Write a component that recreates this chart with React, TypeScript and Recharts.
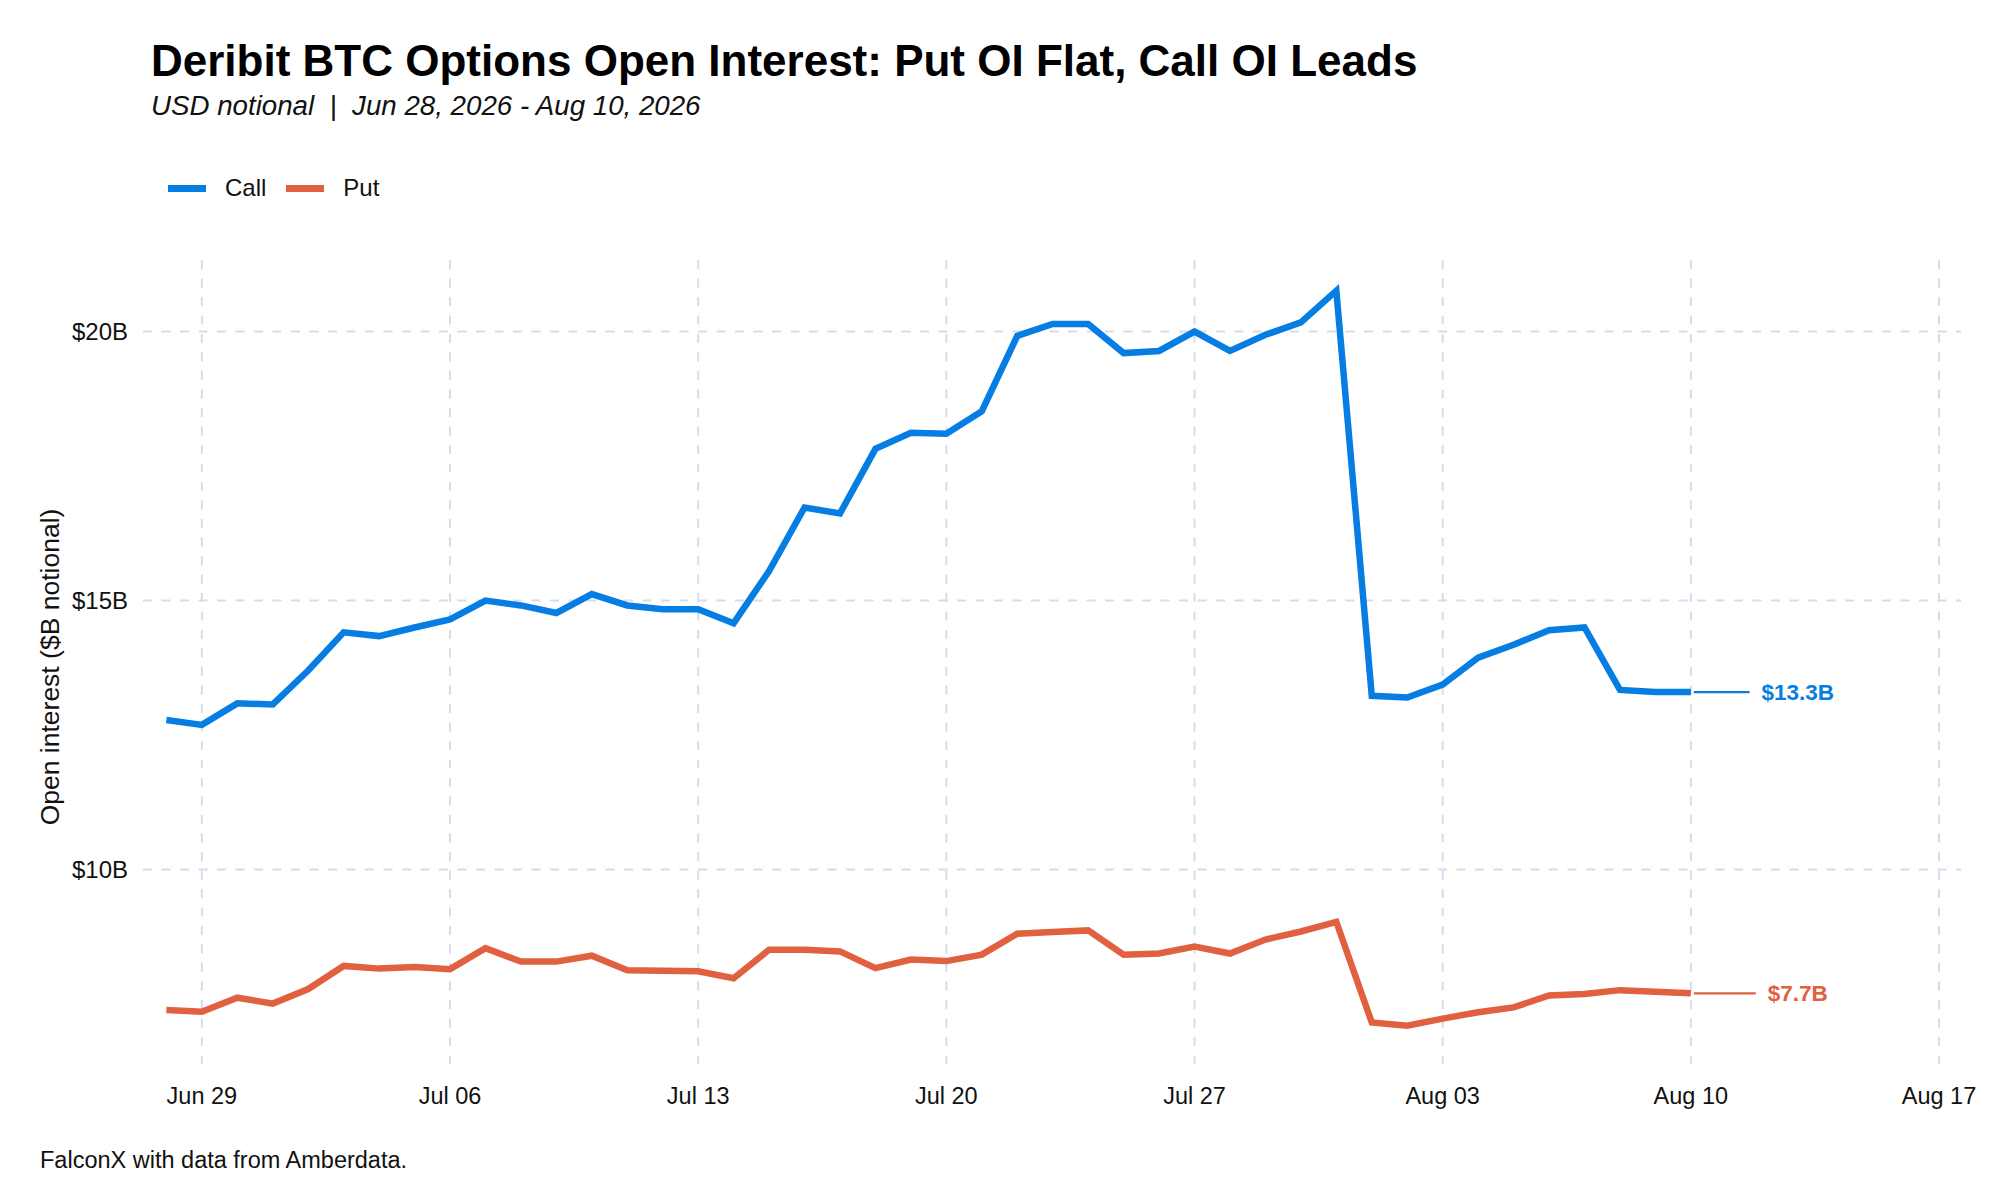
import React from "react";
import { LineChart, Line, XAxis, YAxis, CartesianGrid, Legend } from "recharts";

const FONT = '"Liberation Sans", Arial, Helvetica, sans-serif';
const CALL_COLOR = "#067DE3";
const PUT_COLOR = "#E0603F";
const GRID_COLOR = "#D3DDEC";

// daily observations, USD notional in $B
const dates = [
  "2026-06-28", "2026-06-29", "2026-06-30", "2026-07-01", "2026-07-02", "2026-07-03", "2026-07-04",
  "2026-07-05", "2026-07-06", "2026-07-07", "2026-07-08", "2026-07-09", "2026-07-10", "2026-07-11",
  "2026-07-12", "2026-07-13", "2026-07-14", "2026-07-15", "2026-07-16", "2026-07-17", "2026-07-18",
  "2026-07-19", "2026-07-20", "2026-07-21", "2026-07-22", "2026-07-23", "2026-07-24", "2026-07-25",
  "2026-07-26", "2026-07-27", "2026-07-28", "2026-07-29", "2026-07-30", "2026-07-31", "2026-08-01",
  "2026-08-02", "2026-08-03", "2026-08-04", "2026-08-05", "2026-08-06", "2026-08-07", "2026-08-08",
  "2026-08-09", "2026-08-10",
];

const callOI = [
  12.78, 12.69, 13.09, 13.07, 13.70, 14.41, 14.34, 14.50, 14.65, 15.00, 14.91, 14.77, 15.12, 14.91,
  14.84, 14.84, 14.58, 15.55, 16.73, 16.62, 17.82, 18.12, 18.10, 18.52, 19.92, 20.14, 20.14, 19.60,
  19.64, 20.00, 19.64, 19.94, 20.17, 20.76, 13.23, 13.20, 13.44, 13.94, 14.18, 14.45, 14.50, 13.34,
  13.30, 13.30,
];

const putOI = [
  7.39, 7.36, 7.62, 7.51, 7.78, 8.21, 8.16, 8.19, 8.15, 8.54, 8.29, 8.29, 8.40, 8.13,
  8.12, 8.11, 7.98, 8.51, 8.51, 8.48, 8.17, 8.33, 8.30, 8.42, 8.81, 8.84, 8.87, 8.42,
  8.44, 8.57, 8.44, 8.70, 8.85, 9.03, 7.16, 7.10, 7.23, 7.35, 7.44, 7.66, 7.69, 7.76,
  7.73, 7.70,
];

const tickDates = ["2026-06-29", "2026-07-06", "2026-07-13", "2026-07-20", "2026-07-27", "2026-08-03", "2026-08-10", "2026-08-17"];
const tickLabels = ["Jun 29", "Jul 06", "Jul 13", "Jul 20", "Jul 27", "Aug 03", "Aug 10", "Aug 17"];
const yTicks = [10, 15, 20];

const series = [
  { key: "call", name: "Call", color: CALL_COLOR },
  { key: "put", name: "Put", color: PUT_COLOR },
];

const X_DOMAIN: [number, number] = [-0.66, 50.62];
const Y_DOMAIN: [number, number] = [6.22, 21.33];

const DAY = 86400000;
const t0 = Date.parse(dates[0]);
const toDay = (d: string) => Math.round((Date.parse(d) - t0) / DAY);

const data = dates.map((d, i) => ({ day: toDay(d), call: callOI[i], put: putOI[i] }));
const tickDays = tickDates.map(toDay);
const tickText: Record<number, string> = {};
tickDays.forEach((d, i) => (tickText[d] = tickLabels[i]));

// rough bold width of the end labels (em units)
const labelWidth = (s: string, fs: number) =>
  s.split("").reduce((w, c) => w + (c === "." ? 0.278 : c === "B" ? 0.722 : 0.556), 0) * fs;

const endLabel = (color: string, last: number) => (props: any) => {
  const { x, y, index, value } = props;
  if (index !== last) return null;
  const fs = 22.5;
  const txt = `$${Number(value).toFixed(1)}B`;
  const cx = x + 107;
  const segEnd = cx - labelWidth(txt, fs) / 2 - 12;
  return (
    <g>
      <line x1={x + 3} y1={y} x2={segEnd} y2={y} stroke={color} strokeWidth={2.2} />
      <text x={cx} y={y} dy="0.36em" textAnchor="middle" fill={color}
        style={{ fontFamily: FONT, fontSize: fs, fontWeight: 700 }}>
        {txt}
      </text>
    </g>
  );
};

const LegendContent = () => (
  <div style={{ display: "flex", alignItems: "center", fontFamily: FONT, fontSize: 24, color: "#111", height: 30 }}>
    {series.map((s) => (
      <div key={s.key} style={{ display: "flex", alignItems: "center", marginRight: 20 }}>
        <div style={{ width: 38, height: 7, background: s.color, marginRight: 19 }} />
        <span>{s.name}</span>
      </div>
    ))}
  </div>
);

const vGrid = ({ xAxis, offset }: any) =>
  tickDays.map((d) =>
    xAxis && typeof xAxis.scale === "function"
      ? xAxis.scale(d)
      : offset.left + ((d - X_DOMAIN[0]) / (X_DOMAIN[1] - X_DOMAIN[0])) * offset.width
  );

const hGrid = ({ yAxis, offset }: any) =>
  yTicks.map((v) =>
    yAxis && typeof yAxis.scale === "function"
      ? yAxis.scale(v)
      : offset.top + ((Y_DOMAIN[1] - v) / (Y_DOMAIN[1] - Y_DOMAIN[0])) * offset.height
  );

export default function App() {
  const last = data.length - 1;
  return (
    <div style={{ position: "absolute", left: 0, top: 0, width: 2000, height: 1200, background: "#fff" }}>
      <LineChart width={2000} height={1200} data={data}
        margin={{ top: 260, right: 39, left: 0, bottom: 77 }}>
        <CartesianGrid stroke={GRID_COLOR} strokeWidth={2} strokeDasharray="9 9.5"
          verticalCoordinatesGenerator={vGrid} horizontalCoordinatesGenerator={hGrid} />
        <XAxis dataKey="day" type="number" domain={X_DOMAIN} allowDataOverflow
          ticks={tickDays} tickFormatter={(v: number) => tickText[v] ?? ""}
          axisLine={false} tickLine={false} tickSize={0} tickMargin={14} height={50}
          tick={{ fill: "#111", fontSize: 23.5, fontFamily: FONT }} interval={0} />
        <YAxis type="number" domain={Y_DOMAIN} allowDataOverflow ticks={yTicks}
          tickFormatter={(v: number) => `$${v}B`} width={143}
          axisLine={false} tickLine={false} tickSize={0} tickMargin={15}
          tick={{ fill: "#111", fontSize: 24, fontFamily: FONT }} />
        <Legend layout="vertical" align="center" verticalAlign="middle"
          wrapperStyle={{ top: 173, left: 168, width: 400, height: 30 }}
          content={() => <LegendContent />} />
        <Line type="linear" dataKey="call" name="Call" stroke={CALL_COLOR} strokeWidth={6.5}
          dot={false} activeDot={false} isAnimationActive={false}
          label={endLabel(CALL_COLOR, last)} />
        <Line type="linear" dataKey="put" name="Put" stroke={PUT_COLOR} strokeWidth={6.5}
          dot={false} activeDot={false} isAnimationActive={false}
          label={endLabel(PUT_COLOR, last)} />
      </LineChart>
      <svg width={2000} height={1200} style={{ position: "absolute", left: 0, top: 0, pointerEvents: "none" }}>
        <text x={151} y={76} style={{ fontFamily: FONT, fontSize: 44, fontWeight: 700 }} fill="#000">
          Deribit BTC Options Open Interest: Put OI Flat, Call OI Leads
        </text>
        <text x={151} y={115} style={{ fontFamily: FONT, fontSize: 27.7, fontStyle: "italic", whiteSpace: "pre" }} fill="#111">
          {"USD notional  |  Jun 28, 2026 - Aug 10, 2026"}
        </text>
        <text transform="translate(59, 667) rotate(-90)" textAnchor="middle"
          style={{ fontFamily: FONT, fontSize: 26.5 }} fill="#111">
          Open interest ($B notional)
        </text>
        <text x={40} y={1168} style={{ fontFamily: FONT, fontSize: 23.5 }} fill="#111">
          FalconX with data from Amberdata.
        </text>
      </svg>
    </div>
  );
}
